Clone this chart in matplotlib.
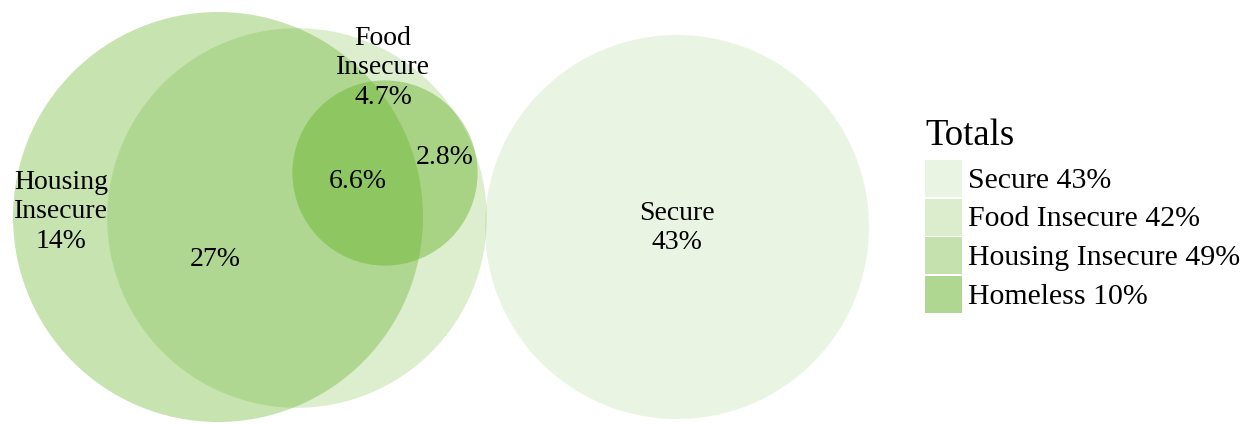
import matplotlib.pyplot as plt
from matplotlib.patches import Circle, Rectangle
import numpy as np

plt.rcParams["font.family"] = ["Liberation Serif", "DejaVu Serif"]

# totals (share of students, %)
SETS = ["Secure", "Food Insecure", "Housing Insecure", "Homeless"]
TOTALS = [43, 42, 49, 10]
LEGEND_ALPHAS = [0.125, 0.22, 0.36, 0.49]
CIRCLE_ALPHAS = [0.125, 0.21, 0.35, 0.42]

# region labels inside the diagram
REGION_TEXT = ["Food\nInsecure\n4.7%", "Housing\nInsecure\n14%", "27%", "6.6%", "2.8%", "Secure\n43%"]

BASE = (95 / 255, 175 / 255, 31 / 255)

# layout (pixel space of the 1252x424 image)
CENTERS = {
  "Secure": (677, 227),
  "Food Insecure": (297, 218),
  "Housing Insecure": (218, 217),
  "Homeless": (385, 173),
}
LABEL_POS = [(383, 68), (61, 212), (215, 260), (358, 182), (445, 157), (677, 228)]
PX_PER_SQRT = 205 / np.sqrt(49)


def main():
  fig = plt.figure(figsize=(12.52, 4.24), dpi=100)
  ax = fig.add_axes([0, 0, 1, 1])
  ax.set_xlim(0, 1252)
  ax.set_ylim(424, 0)
  ax.set_aspect("equal")
  ax.axis("off")

  draw_order = ["Secure", "Housing Insecure", "Food Insecure", "Homeless"]
  for name in draw_order:
    i = SETS.index(name)
    r = PX_PER_SQRT * np.sqrt(TOTALS[i])
    ax.add_patch(Circle(CENTERS[name], r, facecolor=BASE, alpha=CIRCLE_ALPHAS[i], edgecolor="none"))

  for txt, (x, y) in zip(REGION_TEXT, LABEL_POS):
    ax.text(x, y, txt, ha="center", va="center", fontsize=20, linespacing=1.25)

  # legend
  ax.text(925, 136, "Totals", ha="left", va="center", fontsize=26.5)
  for i, name in enumerate(SETS):
    top = 160 + i * 38.5
    ax.add_patch(Rectangle((925, top), 37, 37, facecolor=BASE, alpha=LEGEND_ALPHAS[i], edgecolor="none"))
    ax.text(968, top + 21, f"{name} {TOTALS[i]}%", ha="left", va="center", fontsize=21.5)

  fig.savefig("out.png", dpi=100)
  plt.close(fig)


if __name__ == "__main__":
  main()
